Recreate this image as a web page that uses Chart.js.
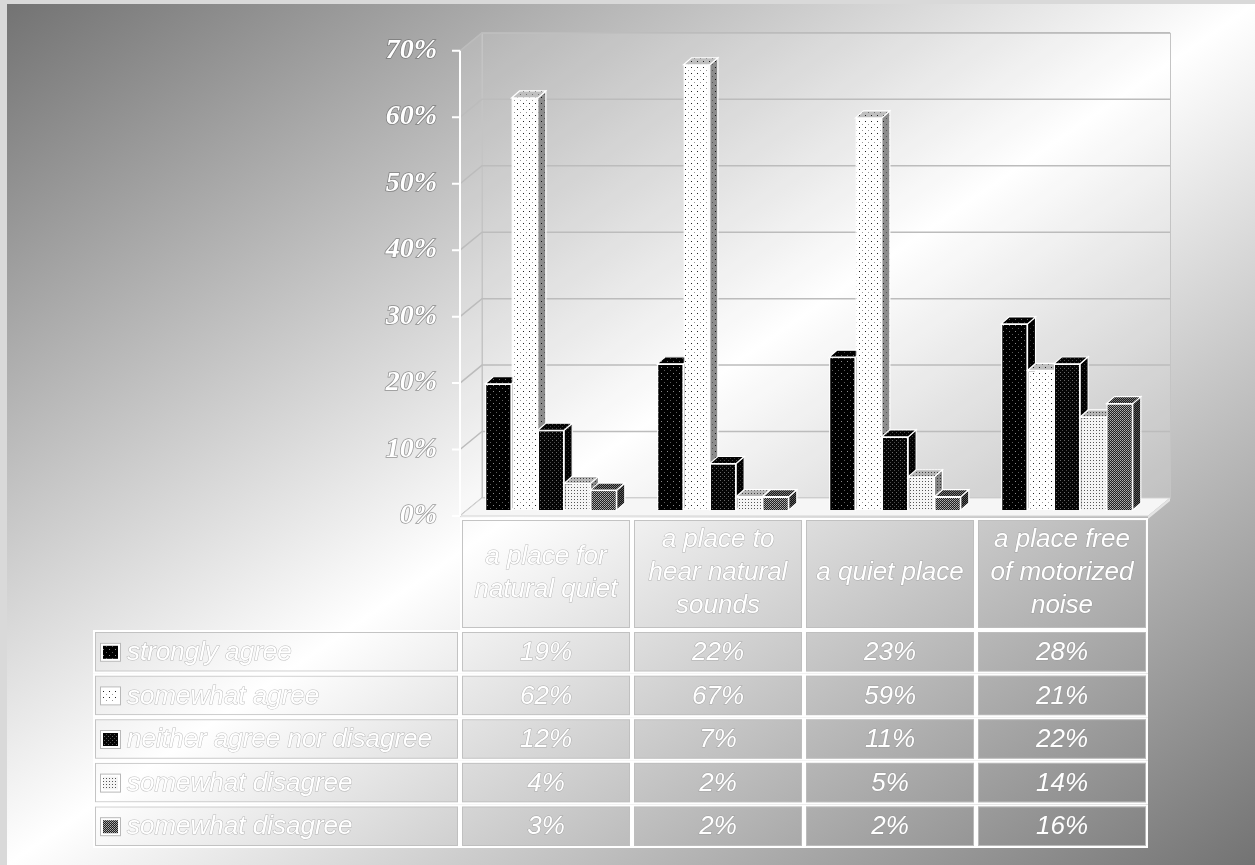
<!DOCTYPE html>
<html lang="en">
<head>
    <meta charset="UTF-8">
    <script src="https://cdn.jsdelivr.net/npm/chart.js"></script>
    <title>Natural quiet survey</title>
    <style>
        body { margin: 0; background: #d9d9d9; }
        canvas { display: block; }
    </style>
</head>
<body>
    <canvas id="chart" width="1255" height="865"></canvas>

    <script>
        // chart data
        var categories = [
            ['a place for', 'natural quiet'],
            ['a place to', 'hear natural', 'sounds'],
            ['a quiet place'],
            ['a place free', 'of motorized', 'noise']
        ];
        var seriesNames = ['strongly agree', 'somewhat agree', 'neither agree nor disagree', 'somewhat disagree', 'somewhat disagree'];
        var stronglyAgree = [19, 22, 23, 28];
        var somewhatAgree = [62, 67, 59, 21];
        var neitherAgree = [12, 7, 11, 22];
        var somewhatDisagree = [4, 2, 5, 14];
        var somewhatDisagree2 = [3, 2, 2, 16];
        var yMax = 70;
        var yStep = 10;

        var canvas = document.getElementById('chart');
        var ctx = canvas.getContext('2d');

        // 3d geometry (pixels)
        var frontOff = { x: -5, y: 6 };   // front plane relative to bar plane
        var depth = { x: 22, y: -18 };    // front plane -> back wall
        var barDepth = { x: 8, y: -7 };

        // pattern tiles, one per series
        function makePattern(size, bg, dots, shade) {
            var t = document.createElement('canvas');
            t.width = size; t.height = size;
            var c = t.getContext('2d');
            c.fillStyle = bg;
            c.fillRect(0, 0, size, size);
            dots.forEach(function (d) {
                c.fillStyle = d[2];
                c.fillRect(d[0], d[1], 1, 1);
            });
            if (shade) {
                c.fillStyle = 'rgba(0,0,0,' + shade + ')';
                c.fillRect(0, 0, size, size);
            }
            return ctx.createPattern(t, 'repeat');
        }

        var tiles = [
            [6, '#000000', [[1, 1, '#8a8a8a'], [4, 4, '#5a5a5a']]],
            [6, '#ffffff', [[1, 1, '#222222'], [4, 4, '#9a9a9a']]],
            [4, '#050505', [[0, 0, '#6a6a6a'], [2, 2, '#4a4a4a']]],
            [3, '#f4f4f4', [[1, 1, '#555555']]],
            [2, '#202020', [[0, 0, '#b0b0b0'], [1, 1, '#909090']]]
        ];
        var frontPat = tiles.map(function (t) { return makePattern(t[0], t[1], t[2], 0); });
        var topPat = tiles.map(function (t) { return makePattern(t[0], t[1], t[2], 0.25); });
        var sidePat = tiles.map(function (t) { return makePattern(t[0], t[1], t[2], 0.45); });

        var seriesData = [stronglyAgree, somewhatAgree, neitherAgree, somewhatDisagree, somewhatDisagree2];

        function poly(c, pts) {
            c.beginPath();
            c.moveTo(pts[0][0], pts[0][1]);
            for (var i = 1; i < pts.length; i++) c.lineTo(pts[i][0], pts[i][1]);
            c.closePath();
        }

        function outlinedText(c, text, x, y) {
            c.lineWidth = 1;
            c.strokeStyle = 'rgba(140,140,140,0.55)';
            c.strokeText(text, x, y);
            c.fillStyle = '#ffffff';
            c.fillText(text, x, y);
        }

        var scenePlugin = {
            id: 'scene',
            beforeDraw: function (chart) {
                var c = chart.ctx;
                var W = chart.width, H = chart.height;
                var ys = chart.scales.y, xs = chart.scales.x, ca = chart.chartArea;

                // page background
                c.save();
                c.fillStyle = '#d9d9d9';
                c.fillRect(0, 0, W, H);
                c.translate(7, 4);
                c.scale(W - 7, H - 4);
                var g = c.createLinearGradient(0, 0, 1, 1);
                g.addColorStop(0, '#737373');
                g.addColorStop(0.5, '#ffffff');
                g.addColorStop(1, '#737373');
                c.fillStyle = g;
                c.fillRect(0, 0, 1, 1);
                c.restore();

                var fl = ca.left + frontOff.x, fr = ca.right + frontOff.x;
                var fb = ys.getPixelForValue(0) + frontOff.y, ft = ys.getPixelForValue(yMax) + frontOff.y;
                var bl = fl + depth.x, br = fr + depth.x, bt = ft + depth.y, bb = fb + depth.y;

                c.save();
                // back wall and side wall
                c.fillStyle = 'rgba(255,255,255,0.12)';
                c.fillRect(bl, bt, br - bl, bb - bt);
                poly(c, [[fl, ft], [bl, bt], [bl, bb], [fl, fb]]);
                c.fill();
                c.strokeStyle = '#c4c4c4';
                c.lineWidth = 1;
                c.strokeRect(bl + 0.5, bt + 0.5, br - bl, bb - bt);
                poly(c, [[fl, ft], [bl, bt], [bl, bb], [fl, fb]]);
                c.stroke();

                // gridlines
                c.strokeStyle = '#bcbcbc';
                c.lineWidth = 1.5;
                ys.ticks.forEach(function (t) {
                    var py = ys.getPixelForValue(t.value) + frontOff.y;
                    c.beginPath();
                    c.moveTo(fl, py);
                    c.lineTo(bl, py + depth.y);
                    c.lineTo(br, py + depth.y);
                    c.stroke();
                });

                // floor
                poly(c, [[fl, fb], [fr, fb], [br, bb], [bl, bb]]);
                c.fillStyle = '#f6f6f6';
                c.fill();
                c.strokeStyle = '#d4d4d4';
                c.lineWidth = 1;
                c.stroke();
                poly(c, [[fr, fb], [br, bb], [br, bb + 3], [fr, fb + 3]]);
                c.fillStyle = '#e4e4e4';
                c.fill();

                // front axis
                c.strokeStyle = '#ffffff';
                c.lineWidth = 2;
                c.beginPath();
                c.moveTo(fl, ft);
                c.lineTo(fl, fb);
                ys.ticks.forEach(function (t) {
                    var py = ys.getPixelForValue(t.value) + frontOff.y;
                    c.moveTo(fl - 8, py);
                    c.lineTo(fl, py);
                });
                c.stroke();

                // data table
                var catW = (xs.right - xs.left) / categories.length;
                var headTop = fb + 2, headBot = 630, rowH = 43.6, labelLeft = 93;

                function cell(x, y, w, h) {
                    c.strokeStyle = 'rgba(190,190,190,0.9)';
                    c.lineWidth = 1;
                    c.strokeRect(x + 2.5, y + 2.5, w - 5, h - 5);
                    c.strokeStyle = '#ffffff';
                    c.lineWidth = 2;
                    c.strokeRect(x + 1, y + 1, w - 2, h - 2);
                }

                c.font = 'italic 26px "Liberation Sans", Arial, sans-serif';
                c.textBaseline = 'middle';
                c.textAlign = 'center';
                categories.forEach(function (lab, i) {
                    var cx = xs.getPixelForValue(i) + frontOff.x;
                    cell(cx - catW / 2, headTop, catW, headBot - headTop);
                    var mid = (headTop + headBot) / 2 - 1;
                    lab.forEach(function (line, j) {
                        outlinedText(c, line, cx, mid + (j - (lab.length - 1) / 2) * 33);
                    });
                });

                seriesNames.forEach(function (name, r) {
                    var top = headBot + r * rowH;
                    var cy = top + rowH / 2 + 1;
                    cell(labelLeft, top, fl - labelLeft, rowH);
                    // legend key
                    c.fillStyle = '#ffffff';
                    c.fillRect(labelLeft + 7, cy - 10, 21, 19);
                    c.strokeStyle = '#b8b8b8';
                    c.lineWidth = 1;
                    c.strokeRect(labelLeft + 7.5, cy - 9.5, 20, 18);
                    c.fillStyle = frontPat[r];
                    c.fillRect(labelLeft + 10, cy - 7, 15, 13);
                    c.textAlign = 'left';
                    outlinedText(c, name, labelLeft + 34, cy);
                    c.textAlign = 'center';
                    seriesData[r].forEach(function (v, i) {
                        var cx = xs.getPixelForValue(i) + frontOff.x;
                        cell(cx - catW / 2, top, catW, rowH);
                        outlinedText(c, v + '%', cx, cy);
                    });
                });
                c.restore();
            },
            // redraw bars left to right with their top and side faces
            afterDatasetsDraw: function (chart) {
                var c = chart.ctx;
                c.save();
                for (var s = 0; s < chart.data.datasets.length; s++) {
                    var meta = chart.getDatasetMeta(s);
                    meta.data.forEach(function (bar) {
                        var p = bar.getProps(['x', 'y', 'base', 'width'], true);
                        var l = p.x - p.width / 2, r = p.x + p.width / 2, t = p.y, b = p.base;
                        var topFace = [[l, t], [r, t], [r + barDepth.x, t + barDepth.y], [l + barDepth.x, t + barDepth.y]];
                        var sideFace = [[r, t], [r + barDepth.x, t + barDepth.y], [r + barDepth.x, b + barDepth.y], [r, b]];
                        c.lineWidth = 1.2;
                        c.strokeStyle = '#ffffff';
                        poly(c, sideFace);
                        c.fillStyle = sidePat[s];
                        c.fill();
                        c.stroke();
                        poly(c, topFace);
                        c.fillStyle = topPat[s];
                        c.fill();
                        c.stroke();
                        bar.draw(c);
                    });
                }
                c.restore();
            }
        };

        var datasets = seriesData.map(function (d, i) {
            return {
                label: seriesNames[i],
                data: d,
                backgroundColor: frontPat[i],
                borderColor: '#ffffff',
                borderWidth: 1.2
            };
        });

        new Chart(ctx, {
            type: 'bar',
            data: { labels: categories, datasets: datasets },
            options: {
                responsive: false,
                animation: false,
                devicePixelRatio: 1,
                events: [],
                layout: { padding: { left: 0, top: 510 - 466.67, right: 102, bottom: 355 } },
                datasets: { bar: { categoryPercentage: 0.765, barPercentage: 1 } },
                plugins: { legend: { display: false }, tooltip: { enabled: false } },
                scales: {
                    x: { display: false },
                    y: {
                        min: 0,
                        max: yMax,
                        grid: { display: false, drawTicks: false },
                        border: { display: false },
                        afterFit: function (scale) { scale.width = 465; },
                        ticks: {
                            stepSize: yStep,
                            padding: 28,
                            labelOffset: 6,
                            color: '#ffffff',
                            textStrokeColor: 'rgba(90,90,90,0.6)',
                            textStrokeWidth: 1.5,
                            font: { family: '"Liberation Serif", "Times New Roman", serif', size: 28, style: 'italic', weight: 'bold' },
                            callback: function (v) { return v + '%'; }
                        }
                    }
                }
            },
            plugins: [scenePlugin]
        });
    </script>
</body>
</html>
